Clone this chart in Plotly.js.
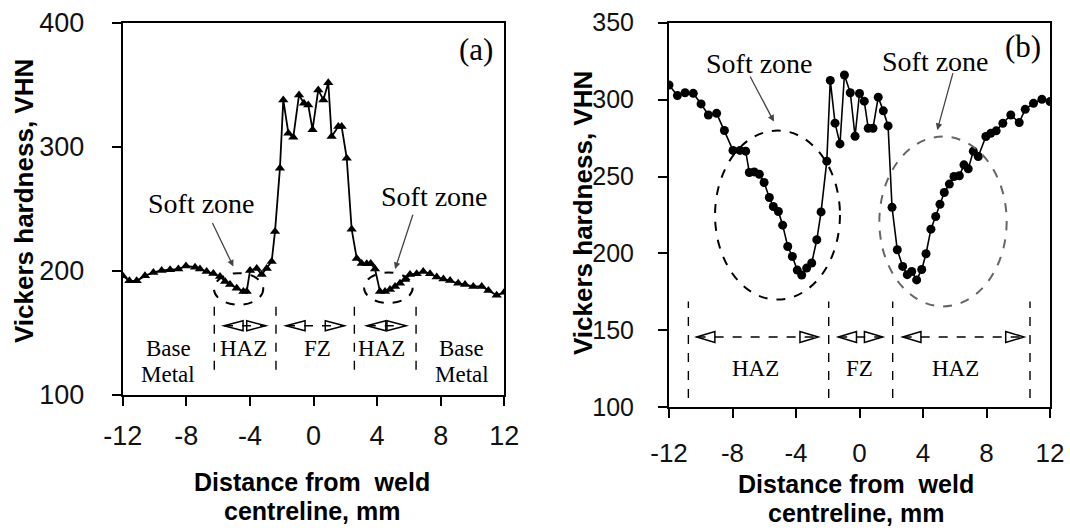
<!DOCTYPE html>
<html><head><meta charset="utf-8">
<script src="https://cdn.plot.ly/plotly-3.0.1.min.js"></script>
<style>html,body{margin:0;padding:0;background:#fff}#chart{width:1070px;height:530px}</style>
</head><body><div id="chart"></div>
<script>
// Panel (a): distance from weld centreline (mm) and Vickers hardness (VHN)
const distanceA = [-12.0, -11.58, -11.12, -10.6, -10.07, -9.55, -9.02, -8.5, -8.02, -7.45, -7.14, -6.72, -6.3, -5.88, -5.56, -5.25, -4.83, -4.41, -4.2, -3.99, -3.57, -3.26, -2.94, -2.63, -2.42, -2.11, -1.9, -1.58, -1.27, -0.91, -0.6, -0.33, -0.06, 0.3, 0.62, 0.93, 1.14, 1.56, 1.77, 2.09, 2.4, 2.72, 3.03, 3.35, 3.6, 3.87, 4.18, 4.5, 4.81, 5.13, 5.44, 5.76, 6.07, 6.49, 6.9, 7.33, 7.75, 8.17, 8.59, 9.1, 9.53, 10.05, 10.58, 11.0, 11.52, 12.0];
const hardnessA = [196, 192, 192, 196, 198.8, 200.4, 201, 201.5, 204, 203, 201.5, 199.6, 198, 195.5, 191.5, 189, 186, 183.5, 183.5, 200.4, 202, 197, 202, 207.6, 231.8, 282.8, 337.8, 311, 307.7, 341.8, 335, 333.7, 313.8, 345.8, 337.8, 351.7, 308.2, 316.3, 316.3, 290.8, 233.6, 210, 206, 205.7, 206, 201.5, 183.5, 183.5, 185, 187.5, 190, 193, 197, 197.7, 199.6, 197.7, 195, 193.4, 192.3, 190, 189, 187.5, 187.5, 184.3, 180.3, 182.7];

// Panel (b)
const distanceB = [-12.0, -11.47, -10.99, -10.47, -9.98, -9.52, -9.0, -8.51, -7.97, -7.53, -7.17, -6.94, -6.63, -6.31, -6.01, -5.68, -5.43, -5.11, -4.84, -4.52, -4.23, -3.92, -3.64, -3.33, -3.01, -2.69, -2.42, -2.06, -1.84, -1.54, -1.23, -0.95, -0.58, -0.28, 0.0, 0.3, 0.55, 0.85, 1.18, 1.5, 1.8, 2.05, 2.38, 2.72, 3.01, 3.29, 3.6, 3.92, 4.19, 4.5, 4.8, 5.07, 5.34, 5.66, 5.95, 6.29, 6.58, 6.85, 7.17, 7.48, 7.96, 8.27, 8.61, 9.03, 9.53, 10.06, 10.44, 10.96, 11.49, 12.0];
const hardnessB = [309.5, 302.6, 304.5, 304.1, 297.2, 290, 291.1, 279.9, 267, 267, 266.5, 252.6, 253, 251.5, 246.1, 236.4, 230.5, 227.3, 218.4, 204.5, 198, 189.2, 186, 190.5, 193.8, 208.9, 227, 260, 312.5, 284.7, 271.2, 316, 304.5, 276.2, 304, 299, 281.4, 281.4, 301.6, 292.7, 282.9, 230, 202.4, 191.6, 186.2, 188.3, 182.8, 189.6, 199.8, 215.8, 224, 232, 239.6, 245.1, 250, 250.5, 257.6, 255, 266.5, 263, 276, 278.1, 279.7, 284.6, 290, 285.1, 293.7, 297.6, 300.2, 298.7];

const xTicks = [-12, -8, -4, 0, 4, 8, 12];
const xTickLabels = ['-12', '-8', '-4', '0', '4', '8', '12'];
const yTicksA = [100, 200, 300, 400];
const yTicksB = [100, 150, 200, 250, 300, 350];
const panelLabels = ['(a)', '(b)'];
const softZoneLabel = 'Soft zone';
const yTitle = 'Vickers hardness, VHN';
const xTitleLines = ['Distance from  weld', 'centreline, mm'];

const W = 1070, H = 530;
const px = v => v / W;
const py = v => 1 - v / H;
const SERIF = 'Liberation Serif, Times New Roman, serif';
const SANS = 'Liberation Sans, Arial, sans-serif';

const traces = [
  {x: distanceA, y: hardnessA, xaxis: 'x', yaxis: 'y', mode: 'lines+markers',
   line: {color: '#000', width: 1.8}, marker: {symbol: 'triangle-up', size: 9, color: '#000'}, hoverinfo: 'x+y'},
  {x: distanceB, y: hardnessB, xaxis: 'x2', yaxis: 'y2', mode: 'lines+markers',
   line: {color: '#000', width: 1.6}, marker: {symbol: 'circle', size: 9, color: '#000'}, hoverinfo: 'x+y'}
];

function axisBase(fs) {
  return {showgrid: false, zeroline: false, showline: true, linecolor: '#000', linewidth: 2,
    mirror: true, ticks: 'outside', ticklen: 9, tickwidth: 2, tickcolor: '#000',
    tickfont: {family: SANS, size: fs, color: '#111'}, fixedrange: true};
}

const shapes = [];
const annotations = [];

function vline(xr, yr, x, y0, y1) {
  shapes.push({type: 'line', xref: xr, yref: yr, x0: x, x1: x, y0: y0, y1: y1,
    line: {color: '#000', width: 1.4, dash: 'dash'}});
}
function dblArrow(xr, yr, x1, x2, y, L, h) {
  shapes.push({type: 'line', xref: xr, yref: yr, x0: x1, x1: x2, y0: y, y1: y,
    line: {color: '#000', width: 1.3, dash: 'dash'}});
  shapes.push({type: 'path', xref: xr, yref: yr,
    path: `M ${x1},${y} L ${x1 + L},${y + h} L ${x1 + L},${y - h} Z`, line: {color: '#000', width: 1.5}});
  shapes.push({type: 'path', xref: xr, yref: yr,
    path: `M ${x2},${y} L ${x2 - L},${y + h} L ${x2 - L},${y - h} Z`, line: {color: '#000', width: 1.5}});
}
function ellipse(xr, yr, x0, x1, y0, y1, color) {
  shapes.push({type: 'circle', xref: xr, yref: yr, x0: x0, x1: x1, y0: y0, y1: y1,
    line: {color: color, width: 2, dash: 'dash'}});
}
function text(xr, yr, x, y, t, size, family, extra) {
  annotations.push(Object.assign({xref: xr, yref: yr, x: x, y: y, text: t, showarrow: false,
    font: {family: family, size: size, color: '#000'}, xanchor: 'center', yanchor: 'middle'}, extra || {}));
}
function arrow(xr, yr, xh, yh, xt, yt) {
  annotations.push({xref: xr, yref: yr, axref: xr, ayref: yr, x: xh, y: yh, ax: xt, ay: yt, text: '',
    showarrow: true, arrowhead: 2, arrowsize: 1, arrowwidth: 1.3, arrowcolor: '#444', standoff: 0});
}
const boldSansY = {family: SANS, size: 26, color: '#000', weight: 'bold'};
const boldSansX = {family: SANS, size: 25, color: '#000', weight: 'bold'};

// ---- Panel (a) annotations
ellipse('x', 'y', -6.26, -3.16, 172.7, 198.2, '#000');
ellipse('x', 'y', 3.18, 6.24, 174.1, 198.7, '#000');
[-6.24, -2.36, 2.57, 6.45].forEach(x => vline('x', 'y', x, 120.3, 175.4));
dblArrow('x', 'y', -5.63, -3.0, 155.8, 1.2, 4);
dblArrow('x', 'y', -1.73, 1.94, 155.8, 1.2, 4);
dblArrow('x', 'y', 3.35, 5.82, 155.8, 1.2, 4);
text('x', 'y', -9.13, 137.8, 'Base', 23, SERIF);
text('x', 'y', -9.13, 116.3, 'Metal', 23, SERIF);
text('x', 'y', -4.41, 137.8, 'HAZ', 23, SERIF);
text('x', 'y', 0.24, 137.8, 'FZ', 23, SERIF);
text('x', 'y', 4.29, 137.8, 'HAZ', 23, SERIF);
text('x', 'y', 9.32, 137.8, 'Base', 23, SERIF);
text('x', 'y', 9.32, 116.3, 'Metal', 23, SERIF);
text('x', 'y', -7.03, 254.6, softZoneLabel, 28, SERIF);
text('x', 'y', 7.64, 259.9, softZoneLabel, 28, SERIF);
text('x', 'y', 10.25, 378, panelLabels[0], 31, SERIF);
arrow('x', 'y', -5.04, 203.5, -6.4, 239.8);
arrow('x', 'y', 5.13, 201.5, 6.28, 246.5);

// ---- Panel (b) annotations
ellipse('x2', 'y2', -9.1, -1.23, 170, 279.9, '#000');
ellipse('x2', 'y2', 1.25, 9.27, 165.6, 276, '#666');
[-10.78, -1.94, 2.09, 10.74].forEach(x => vline('x2', 'y2', x, 106, 168.8));
dblArrow('x2', 'y2', -10.26, -2.6, 145.7, 1.15, 3.6);
dblArrow('x2', 'y2', -1.34, 1.46, 145.7, 1.15, 3.6);
dblArrow('x2', 'y2', 2.72, 10.36, 145.7, 1.15, 3.6);
text('x2', 'y2', -6.58, 124.9, 'HAZ', 23, SERIF);
text('x2', 'y2', -0.01, 124.9, 'FZ', 23, SERIF);
text('x2', 'y2', 6.02, 124.9, 'HAZ', 23, SERIF);
text('x2', 'y2', -6.29, 323.6, softZoneLabel, 28, SERIF);
text('x2', 'y2', 4.77, 324.7, softZoneLabel, 28, SERIF);
text('x2', 'y2', 10.32, 334.4, panelLabels[1], 31, SERIF);
arrow('x2', 'y2', -5.39, 285.7, -6.94, 316);
arrow('x2', 'y2', 4.9, 280.3, 5.91, 318.2);

// ---- Axis titles
text('paper', 'paper', px(24), py(201), yTitle, 26, SANS, {textangle: -90, font: boldSansY});
text('paper', 'paper', px(583), py(213), yTitle, 26, SANS, {textangle: -90, font: boldSansY});
text('paper', 'paper', px(312), py(482), xTitleLines[0], 25, SANS, {font: boldSansX});
text('paper', 'paper', px(312), py(511), xTitleLines[1], 25, SANS, {font: boldSansX});
text('paper', 'paper', px(856), py(484), xTitleLines[0], 25, SANS, {font: boldSansX});
text('paper', 'paper', px(856), py(513), xTitleLines[1], 25, SANS, {font: boldSansX});

const layout = {
  width: W, height: H, margin: {l: 0, r: 0, t: 0, b: 0},
  paper_bgcolor: '#fff', plot_bgcolor: '#fff', showlegend: false,
  xaxis: Object.assign(axisBase(27), {domain: [px(122.7), px(504.3)], range: [-12, 12], tickvals: xTicks, ticktext: xTickLabels, ticklabelstandoff: 7, anchor: 'y'}),
  yaxis: Object.assign(axisBase(27), {domain: [py(395), py(22.7)], range: [100, 400], tickvals: yTicksA, ticklabelstandoff: 22, anchor: 'x'}),
  xaxis2: Object.assign(axisBase(26), {domain: [px(669), px(1050)], range: [-12, 12], tickvals: xTicks, ticktext: xTickLabels, ticklabelstandoff: 12, anchor: 'y2'}),
  yaxis2: Object.assign(axisBase(25), {domain: [py(407.3), py(22.7)], range: [100, 350], tickvals: yTicksB, ticklabelstandoff: 19, anchor: 'x2'}),
  shapes: shapes, annotations: annotations
};
Plotly.newPlot('chart', traces, layout, {displayModeBar: false, staticPlot: true});
</script></body></html>
